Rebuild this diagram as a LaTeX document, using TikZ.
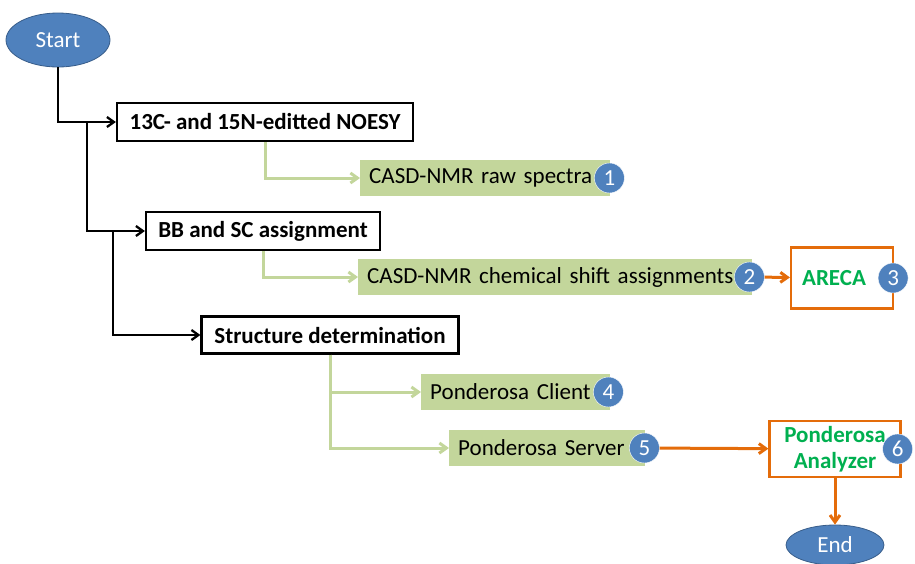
\documentclass[tikz,border=0pt]{standalone}
\usepackage{fontspec}
\setmainfont{Carlito}
\usetikzlibrary{shapes.geometric, arrows.meta, positioning}
\definecolor{termblue}{RGB}{79,129,189}
\definecolor{termedge}{RGB}{56,93,138}
\definecolor{datagreen}{RGB}{195,214,155}
\definecolor{toolorange}{RGB}{228,108,10}
\definecolor{tooltext}{RGB}{0,176,80}
\tikzset{
  terminal/.style={
    ellipse, draw=termedge, thick, fill=termblue, text=white,
    inner sep=0pt, font=\fontsize{23}{27}\selectfont
  },
  stage/.style={
    rectangle, draw, line width=2.2pt, fill=white,
    text centered, inner sep=0pt,
    font=\fontsize{23}{27}\selectfont\bfseries
  },
  dataset/.style={
    rectangle, fill=datagreen, anchor=west, align=left,
    inner xsep=9pt, inner ysep=0pt, minimum height=36pt,
    font=\fontsize{23}{27}\selectfont
  },
  tool/.style={
    rectangle, draw=toolorange, line width=2.2pt, fill=white, text=tooltext,
    align=center, inner sep=0pt,
    font=\fontsize{23}{26}\selectfont\bfseries
  },
  badge/.style={
    circle, fill=termblue, draw=white, thin, text=white,
    minimum size=30pt, inner sep=0pt,
    font=\fontsize{23}{27}\selectfont
  },
  blk/.style={-{Straight Barb[length=7pt, width=10pt]}, line width=2.3pt},
  garr/.style={-{Straight Barb[length=7pt, width=10pt]}, line width=3pt, draw=datagreen},
  oarr/.style={-{Straight Barb[length=7pt, width=10pt]}, line width=3pt, draw=toolorange},
}
\begin{document}
\begin{tikzpicture}[x=1pt, y=-1pt]
  \useasboundingbox (0,0) rectangle (915,563);

  % ── nodes ─────────────────────────────────────────────────────────────────
  \node[terminal, minimum width=104pt, minimum height=54pt] (start) at (58,40) {Start};

  \node[stage, minimum width=296pt, minimum height=38pt] (noesy) at (265,122) {13C- and 15N-editted NOESY};
  \node[stage, minimum width=234pt, minimum height=38pt] (bbsc)  at (263,231) {BB and SC assignment};
  \node[stage, minimum width=257pt, minimum height=37pt] (sdet)  at (330,335) {Structure determination};

  % data sets (green)
  \node[dataset, text width=232pt] (raw)    at (360,178) {CASD-NMR raw spectra};
  \node[dataset, text width=376pt] (shifts) at (358,277) {CASD-NMR chemical shift assignments};
  \node[dataset, text width=171pt] (client) at (421,392) {Ponderosa Client};
  \node[dataset, text width=178pt] (server) at (449,448) {Ponderosa Server};

  % tools (orange)
  \node[tool, minimum width=102pt, minimum height=61pt] (areca)    at (842,278) {ARECA\hspace*{16pt}};
  \node[tool, minimum width=131pt, minimum height=56pt] (analyzer) at (835,449) {Ponderosa\\Analyzer};

  \node[terminal, minimum width=98pt, minimum height=40pt] (finish) at (835,545) {End};

  % numbered badges
  \node[badge, xshift=-1pt] (b1) at (raw.east)      {1};
  \node[badge, xshift=-3pt] (b2) at (shifts.east)   {2};
  \node[badge, xshift=-1pt] (b3) at (areca.east)    {3};
  \node[badge, xshift=-2pt] (b4) at (client.east)   {4};
  \node[badge, xshift=-1pt] (b5) at (server.east)   {5};
  \node[badge, xshift=-4pt] (b6) at (analyzer.east) {6};

  \coordinate (j1) at (87,122);
  \coordinate (j2) at (113,231);

  % ── edges ─────────────────────────────────────────────────────────────────
  \draw[blk] (start) |- (noesy);
  \draw[blk] (j1)    |- (bbsc);
  \draw[blk] (j2)    |- (sdet);

  \draw[garr] (noesy.south) |- (raw.west);
  \draw[garr] (bbsc.south)  |- (shifts.west);
  \draw[garr] (sdet.south)  |- (client.west);
  \draw[garr] (sdet.south)  |- (server.west);

  \draw[oarr] (b2) -- (areca);
  \draw[oarr] (b5) -- (analyzer);
  \draw[oarr] (analyzer) -- (finish);

\end{tikzpicture}
\end{document}
